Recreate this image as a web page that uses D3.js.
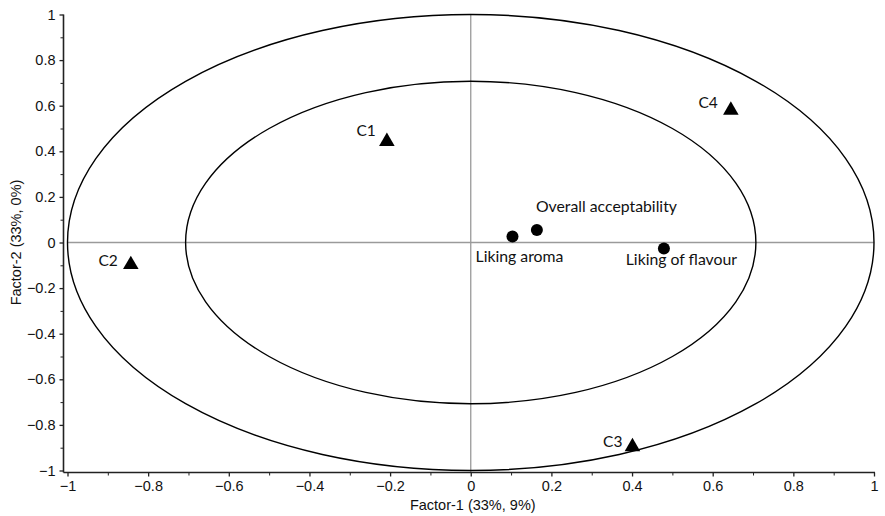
<!DOCTYPE html>
<html><head><meta charset="utf-8">
<script src="https://cdn.jsdelivr.net/npm/d3@7"></script>
<style>body{margin:0;background:#fff}svg{display:block}</style>
</head><body>
<svg id="c" width="885" height="516"></svg>
<script>
// Data
const samples = ["C1", "C2", "C3", "C4"];
const sampleX = [-0.208, -0.843, 0.401, 0.645];
const sampleY = [0.443, -0.097, -0.896, 0.58];
const attributes = ["Overall acceptability", "Liking aroma", "Liking of flavour"];
const attrX = [0.164, 0.1035, 0.479];
const attrY = [0.055, 0.026, -0.026];
const circleRadii = [1, Math.SQRT1_2];
const majorTicks = [-1, -0.8, -0.6, -0.4, -0.2, 0, 0.2, 0.4, 0.6, 0.8, 1];
const minorTicks = [-0.9, -0.7, -0.5, -0.3, -0.1, 0.1, 0.3, 0.5, 0.7, 0.9];
const xTitle = "Factor-1 (33%, 9%)";
const yTitle = "Factor-2 (33%, 0%)";

// Layout (label offsets in px)
const sampleLabelOffset = [[-11, -9], [-13, -3], [-10, -4], [-13, -6]];
const attrLabelOffset = [[-1, -18, "start"], [7, 25, "middle"], [17.5, 17, "middle"]];

const svg = d3.select("#c");
const x = d3.scaleLinear().domain([-1, 1]).range([67.5, 874]);
const y = d3.scaleLinear().domain([-1, 1]).range([470.5, 14.5]);
const axisX = 63.5, axisY = 472.5;
const tickFont = "Liberation Sans, Arial, sans-serif";
const labelFont = "Lato, 'Open Sans', sans-serif";

// gray reference lines
svg.append("line").attr("x1", x(-1)).attr("x2", x(1)).attr("y1", y(0)).attr("y2", y(0))
  .attr("stroke", "#9a9a9a").attr("stroke-width", 1.3);
svg.append("line").attr("x1", x(0)).attr("x2", x(0)).attr("y1", y(1)).attr("y2", axisY)
  .attr("stroke", "#9a9a9a").attr("stroke-width", 1.3);

// ellipses (correlation circles)
svg.selectAll("ellipse.r").data(circleRadii).join("ellipse")
  .attr("cx", x(0)).attr("cy", y(0))
  .attr("rx", d => x(d) - x(0)).attr("ry", d => y(0) - y(d))
  .attr("fill", "none").attr("stroke", "#000").attr("stroke-width", 1.4);

// axes
const gx = svg.append("g").attr("transform", `translate(0,${axisY})`)
  .call(d3.axisBottom(x).tickValues(majorTicks).tickSize(4).tickPadding(4)
    .tickFormat(d => d3.format("")(+d.toFixed(1))));
svg.append("g").attr("transform", `translate(0,${axisY})`)
  .call(d3.axisBottom(x).tickValues(minorTicks).tickSize(3).tickFormat(""))
  .call(g => g.select(".domain").remove());
const gy = svg.append("g").attr("transform", `translate(${axisX},0)`)
  .call(d3.axisLeft(y).tickValues(majorTicks).tickSize(4).tickPadding(4)
    .tickFormat(d => d3.format("")(+d.toFixed(1))));
svg.append("g").attr("transform", `translate(${axisX},0)`)
  .call(d3.axisLeft(y).tickValues(minorTicks).tickSize(3).tickFormat(""))
  .call(g => g.select(".domain").remove());
[gx, gy].forEach(g => {
  g.selectAll("text").attr("font-family", tickFont).attr("font-size", 14.5).attr("fill", "#111");
  g.selectAll("line").attr("stroke", "#222").attr("stroke-width", 1.3);
});
gx.select(".domain").attr("d", `M${axisX},0H${x(1) + 1}`).attr("stroke", "#222").attr("stroke-width", 1.6);
gy.select(".domain").attr("d", `M0,${y(1)}V${axisY}`).attr("stroke", "#222").attr("stroke-width", 1.6);
svg.selectAll(".tick line").attr("stroke", "#222");

// axis titles
svg.append("text").attr("x", x(0) + 2).attr("y", 510).attr("text-anchor", "middle")
  .attr("font-family", tickFont).attr("font-size", 14.5).attr("fill", "#111").text(xTitle);
svg.append("text").attr("transform", `translate(21,${y(0)}) rotate(-90)`).attr("text-anchor", "middle")
  .attr("font-family", tickFont).attr("font-size", 14.5).attr("fill", "#111").text(yTitle);

// sample triangles
const tri = d3.symbol().type(d3.symbolTriangle).size(105);
svg.selectAll("path.s").data(samples).join("path").attr("class", "s")
  .attr("d", tri)
  .attr("transform", (d, i) => `translate(${x(sampleX[i])},${y(sampleY[i])})`)
  .attr("fill", "#000");
svg.selectAll("text.s").data(samples).join("text").attr("class", "s")
  .attr("x", (d, i) => x(sampleX[i]) + sampleLabelOffset[i][0])
  .attr("y", (d, i) => y(sampleY[i]) + sampleLabelOffset[i][1])
  .attr("text-anchor", "end").attr("dominant-baseline", "middle")
  .attr("font-family", labelFont).attr("font-size", 15.5).attr("fill", "#111").text(d => d);

// attribute dots
svg.selectAll("circle.a").data(attributes).join("circle").attr("class", "a")
  .attr("cx", (d, i) => x(attrX[i])).attr("cy", (d, i) => y(attrY[i])).attr("r", 6)
  .attr("fill", "#000");
svg.selectAll("text.a").data(attributes).join("text").attr("class", "a")
  .attr("x", (d, i) => x(attrX[i]) + attrLabelOffset[i][0])
  .attr("y", (d, i) => y(attrY[i]) + attrLabelOffset[i][1])
  .attr("text-anchor", (d, i) => attrLabelOffset[i][2])
  .attr("font-family", labelFont).attr("font-size", 15.8).attr("fill", "#111").text(d => d);
</script>
</body></html>
